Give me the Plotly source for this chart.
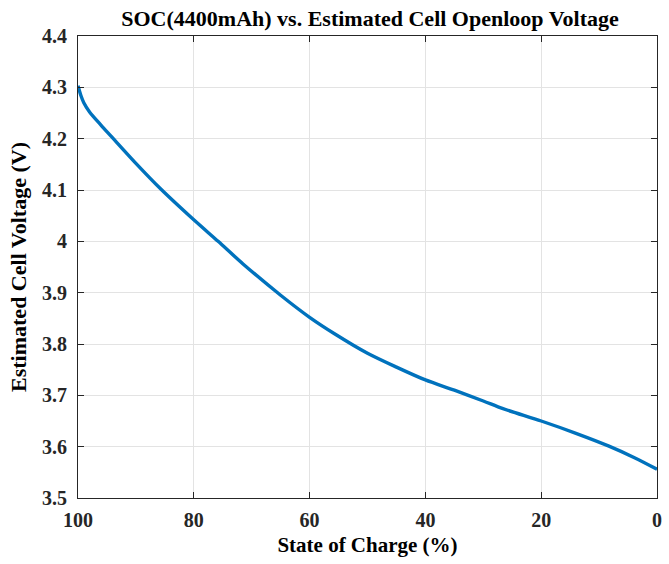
import plotly.graph_objects as go

# State of charge (%) and estimated open-loop cell voltage (V)
soc = [100, 99.5, 99, 98, 96, 94.3, 90, 85.7, 80, 75.8, 71.5, 65, 60,
       55.7, 50, 45, 40, 35, 30, 26.6, 20, 14, 8.3, 3.8, 0]
voltage = [4.303, 4.284, 4.270, 4.252, 4.226, 4.205, 4.152, 4.102, 4.042,
           4.000, 3.956, 3.895, 3.852, 3.820, 3.782, 3.755, 3.730, 3.710,
           3.689, 3.674, 3.650, 3.626, 3.601, 3.578, 3.556]

x_ticks = [100, 80, 60, 40, 20, 0]
x_ticktext = ["100", "80", "60", "40", "20", "0"]
y_ticks = [3.5, 3.6, 3.7, 3.8, 3.9, 4.0, 4.1, 4.2, 4.3, 4.4]
y_ticktext = ["3.5", "3.6", "3.7", "3.8", "3.9", "4", "4.1", "4.2", "4.3", "4.4"]

font_family = "Liberation Serif"
axis_color = "#262626"
grid_color = "#e3e3e3"

fig = go.Figure()
fig.add_trace(go.Scatter(
    x=soc, y=voltage, mode="lines",
    line=dict(color="#0072BD", width=3.4, shape="spline", smoothing=0.8),
    showlegend=False, hoverinfo="x+y",
))

axis_common = dict(
    showline=True, linecolor=axis_color, linewidth=1, mirror="ticks",
    ticks="inside", ticklen=6, tickcolor=axis_color, tickwidth=1,
    showgrid=True, gridcolor=grid_color, gridwidth=1, zeroline=False,
    tickfont=dict(family=font_family, size=20, color="#262626", weight="bold"),
)

fig.update_layout(
    width=669, height=564,
    margin=dict(l=78, r=7, t=36, b=66),
    paper_bgcolor="white", plot_bgcolor="white",
    font=dict(family=font_family, color="#000000"),
    title=dict(
        text="<b>SOC(4400mAh) vs. Estimated Cell Openloop Voltage</b>",
        font=dict(family=font_family, size=22, color="#000000"),
        x=(78 + 662) / 2 / 669, xanchor="center",
        y=1 - 18 / 564, yanchor="middle",
    ),
    xaxis=dict(
        axis_common,
        range=[100, 0], tickvals=x_ticks, ticktext=x_ticktext,
        ticklabelstandoff=4,
        title=dict(text="<b>State of Charge (%)</b>", standoff=7,
                   font=dict(family=font_family, size=21, color="#000000")),
    ),
    yaxis=dict(
        axis_common,
        range=[3.5, 4.4], tickvals=y_ticks, ticktext=y_ticktext,
        ticklabelstandoff=6,
        title=dict(text="<b>Estimated Cell Voltage (V)</b>", standoff=9,
                   font=dict(family=font_family, size=22, color="#000000")),
    ),
)

fig.write_html("out.html")
